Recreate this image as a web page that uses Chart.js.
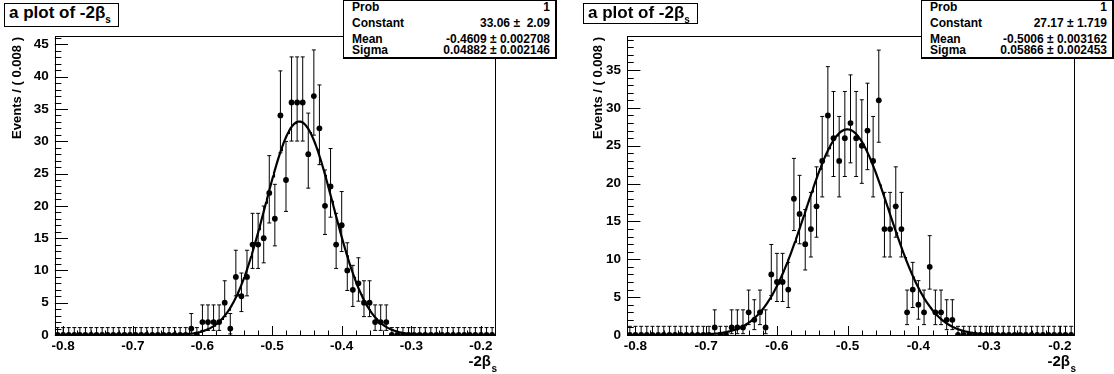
<!DOCTYPE html>
<html><head><meta charset="utf-8">
<script src="https://cdn.jsdelivr.net/npm/chart.js@4.4.1/dist/chart.umd.min.js"></script>
<style>
html,body{margin:0;padding:0;background:#fff;}
body{width:1114px;height:374px;position:relative;overflow:hidden;font-family:"Liberation Sans",Arial,sans-serif;color:#000;}
canvas{position:absolute;top:0;}
.title{position:absolute;border:1px solid #000;background:#fff;font-weight:bold;font-size:17px;white-space:nowrap;box-sizing:border-box;z-index:2;line-height:18px;padding-left:4px;}
.title sub{font-size:10px;vertical-align:-5px;line-height:0;}
.stats{position:absolute;top:0;border:1px solid #000;border-right-width:2px;border-bottom-width:2px;background:#fff;font-weight:bold;font-size:12px;box-sizing:border-box;z-index:2;}
.row{position:absolute;left:8px;right:5px;height:13px;line-height:13px;display:flex;justify-content:space-between;white-space:nowrap;}
</style></head>
<body>
<canvas id="c1" width="557" height="374" style="left:0"></canvas>
<canvas id="c2" width="557" height="374" style="left:557px"></canvas>
<div class="title" style="left:4px;top:3px;width:115px;height:24px;">a plot of -2β<sub>s</sub></div>
<div class="title" style="left:583px;top:3px;width:115px;height:21px;">a plot of -2β<sub>s</sub></div>
<div class="stats" style="left:343px;width:214px;height:59px;">
 <div class="row" style="top:0px"><span>Prob</span><span>1</span></div>
 <div class="row" style="top:16px"><span>Constant</span><span>33.06 ± &nbsp;2.09</span></div>
 <div class="row" style="top:32px"><span>Mean</span><span>-0.4609 ± 0.002708</span></div>
 <div class="row" style="top:43px"><span>Sigma</span><span>0.04882 ± 0.002146</span></div>
</div>
<div class="stats" style="left:921px;width:193px;height:59px;">
 <div class="row" style="top:0px"><span>Prob</span><span>1</span></div>
 <div class="row" style="top:16px"><span>Constant</span><span>27.17 ± 1.719</span></div>
 <div class="row" style="top:32px"><span>Mean</span><span>-0.5006 ± 0.003162</span></div>
 <div class="row" style="top:43px"><span>Sigma</span><span>0.05866 ± 0.002453</span></div>
</div>
<script>
// ---- binning ----
const xMin = -0.812, xMax = -0.18, binWidth = 0.008;
// ---- data (events per bin) ----
const leftCounts = [
 0,0,0,0,0,0,0,0,0,0,0,0,0,0,0,0,0,0,0,0,0,0,0,0,
 1,0,2,2,2,2,5,1,9,6,9,14,14,15,22,18,34,24,36,36,36,28,37,32,20,23,14,17,10,7,8,5,5,2,2,2,
 0,0,0,0,0,0,0,0,0,0,0,0,0,0,0,0,0,0,0
];
const rightCounts = [
 0,0,0,0,0,0,0,0,0,0,0,0,0,0,0,
 1,0,0,1,1,1,3,2,3,1,8,7,7,6,18,16,12,14,17,23,29,26,23,26,28,26,25,27,23,31,14,14,17,14,3,6,4,3,9,3,3,2,2,
 0,0,0,0,0,0,0,0,0,0,0,0,0,0,0,0,0,0,0,0,0
];
// ---- tick labels ----
const xTickValues = [-0.8,-0.7,-0.6,-0.5,-0.4,-0.3,-0.2];
const leftYTicks = [0,5,10,15,20,25,30,35,40,45];
const rightYTicks = [0,5,10,15,20,25,30,35];
// ---- fit results ----
const leftFit = {constant:33.06, mean:-0.4609, sigma:0.04882};
const rightFit = {constant:27.17, mean:-0.5006, sigma:0.05866};

function poissonInterval(n){
  if(n===0) return [0,1.1475];
  const lo = n*Math.pow(1-1/(9*n)-1/(3*Math.sqrt(n)),3);
  const hi = n+1+Math.sqrt(n+0.75);
  return [lo,hi];
}
function centers(counts){ return counts.map((c,i)=>xMin+binWidth*(i+0.5)); }

const FONT = 'Liberation Sans, Arial, sans-serif';

const rootPlugin = {
  id:'rootStyle',
  beforeDatasetsDraw(chart){
    const {ctx, scales:{x,y}} = chart;
    const o = chart.options.plugins.rootStyle;
    ctx.save();
    ctx.strokeStyle='#000'; ctx.lineWidth=1;
    o.counts.forEach((n,i)=>{
      const cx = x.getPixelForValue(xMin+binWidth*(i+0.5));
      const [lo,hi] = poissonInterval(n);
      const yl = y.getPixelForValue(lo), yh = y.getPixelForValue(hi);
      ctx.beginPath();
      ctx.moveTo(cx,yl); ctx.lineTo(cx,yh);
      ctx.moveTo(cx-2,yh); ctx.lineTo(cx+2,yh);
      if(n>0){ ctx.moveTo(cx-2,yl); ctx.lineTo(cx+2,yl); }
      ctx.stroke();
    });
    ctx.restore();
  },
  afterDraw(chart){
    const {ctx, chartArea:a, scales:{x,y}} = chart;
    const o = chart.options.plugins.rootStyle;
    ctx.save();
    ctx.strokeStyle='#000'; ctx.lineWidth=1;
    ctx.strokeRect(Math.round(a.left)+0.5, Math.round(a.top)+0.5, Math.round(a.right-a.left), Math.round(a.bottom-a.top));
    const H = a.right-a.left, V = a.bottom-a.top;
    ctx.beginPath();
    const ymax = y.max;
    for(let v=0; v<=ymax+1e-9; v+=1){
      const py = Math.round(y.getPixelForValue(v))+0.5;
      const len = (v%5===0)? 0.03*H : 0.015*H;
      ctx.moveTo(a.left, py); ctx.lineTo(a.left+len, py);
    }
    for(let i=-41;i<=-9;i++){
      const v=i*0.02;
      if(v<xMin-1e-9||v>xMax+1e-9) continue;
      const px = Math.round(x.getPixelForValue(v))+0.5;
      const len = (i%5===0)? 0.03*V : 0.015*V;
      ctx.moveTo(px,a.bottom); ctx.lineTo(px,a.bottom-len);
    }
    ctx.stroke();
    ctx.fillStyle='#000';
    ctx.save();
    ctx.translate(o.yTitleX, a.top+1);
    ctx.rotate(-Math.PI/2);
    ctx.font='bold 13px '+FONT;
    ctx.textAlign='right'; ctx.textBaseline='middle';
    ctx.fillText('Events / ( 0.008 )',0,0);
    ctx.restore();
    ctx.font='bold 15px '+FONT;
    ctx.textAlign='right'; ctx.textBaseline='alphabetic';
    ctx.fillText('-2β', a.right-4, 366);
    ctx.font='bold 10px '+FONT;
    ctx.textAlign='left';
    ctx.fillText('s', a.right-3.5, 372);
    ctx.restore();
  }
};

function makeChart(id, counts, fit, yMax, yTicks, yAxisWidth, padRight, yTitleX){
  const cs = centers(counts);
  const pts = counts.map((c,i)=>({x:cs[i], y:c}));
  const curve = [];
  const N = 500;
  for(let i=0;i<=N;i++){
    const xv = xMin+(xMax-xMin)*i/N;
    curve.push({x:xv, y:fit.constant*Math.exp(-0.5*Math.pow((xv-fit.mean)/fit.sigma,2))});
  }
  return new Chart(document.getElementById(id), {
    type:'scatter',
    data:{datasets:[
      {type:'line', data:curve, borderColor:'#000', borderWidth:2.2, pointRadius:0, tension:0, fill:false},
      {data:pts, pointRadius:2.9, pointBackgroundColor:'#000', pointBorderColor:'#000', pointBorderWidth:0, showLine:false}
    ]},
    options:{
      responsive:false, animation:false, devicePixelRatio:1,
      layout:{padding:{left:0, top:36, right:padRight, bottom:0}},
      plugins:{legend:{display:false}, tooltip:{enabled:false},
        rootStyle:{counts:counts, yTitleX:yTitleX}},
      scales:{
        x:{type:'linear', min:xMin, max:xMax,
          afterBuildTicks:s=>{ s.ticks = xTickValues.map(v=>({value:v})); },
          afterFit:s=>{ s.height = 39; },
          ticks:{callback:v=>v.toFixed(1), font:{family:FONT, weight:'bold', size:13.5}, color:'#000', padding:3, maxRotation:0, autoSkip:false},
          grid:{display:false, drawTicks:false}, border:{display:false}},
        y:{type:'linear', min:0, max:yMax,
          afterBuildTicks:s=>{ s.ticks = yTicks.map(v=>({value:v})); },
          afterFit:s=>{ s.width = yAxisWidth; },
          ticks:{font:{family:FONT, weight:'bold', size:13.5}, color:'#000', padding:6, autoSkip:false},
          grid:{display:false, drawTicks:false}, border:{display:false}}
      }
    },
    plugins:[rootPlugin]
  });
}
makeChart('c1', leftCounts, leftFit, 46.3, leftYTicks, 54.8, 62.1, 17);
makeChart('c2', rightCounts, rightFit, 39.5, rightYTicks, 70, 40, 41);
</script>
</body></html>
